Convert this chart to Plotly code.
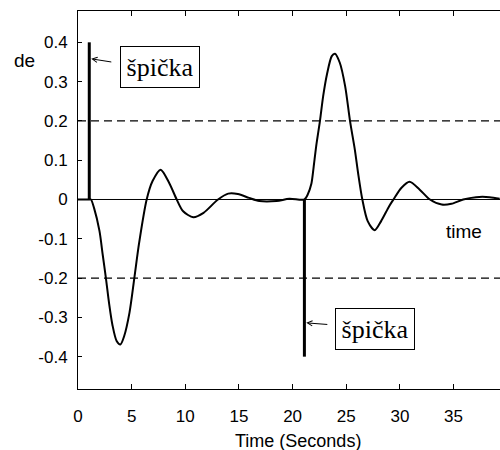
import plotly.graph_objects as go

# signal de(t)
t = [0, 1.0, 1.2, 1.5, 2.0, 2.3, 2.6, 2.9, 3.2, 3.6, 3.95, 4.3, 4.8, 5.25, 5.7, 6.4,
     6.95, 7.7, 8.5, 9.2, 9.8, 10.75, 11.7, 13.05, 14.0, 14.9, 15.95, 16.9, 18.5,
     19.7, 21.1, 21.4, 21.75, 21.95, 22.2, 22.55, 22.85, 23.2, 23.65, 23.95, 24.4,
     24.9, 25.35, 25.8, 26.1, 26.5, 27.0, 27.65, 28.25, 29.0, 29.4, 30.15, 30.9,
     31.85, 32.8, 33.9, 34.8, 35.9, 37.1, 38.35, 39.3]
de = [0, 0, 0, -0.022, -0.08, -0.14, -0.2, -0.265, -0.318, -0.36, -0.369, -0.348,
      -0.288, -0.2, -0.11, 0, 0.047, 0.076, 0.042, 0, -0.03, -0.045, -0.034, 0,
      0.015, 0.014, 0.004, -0.004, -0.004, 0.002, 0, 0.012, 0.04, 0.08, 0.136,
      0.2, 0.263, 0.318, 0.365, 0.371, 0.348, 0.288, 0.2, 0.127, 0.068, 0, -0.055,
      -0.078, -0.055, -0.017, 0, 0.03, 0.045, 0.025, 0, -0.013, -0.011, 0, 0.006,
      0.006, 0.002]

# spikes (špička)
spike_t = [1.05, 21.1]
spike_y = [0.4, -0.4]

# reference levels
zero_level = 0
limit_levels = [0.2, -0.2]

# ticks
x_ticks = [0, 5, 10, 15, 20, 25, 30, 35]
x_ticktext = ["0", "5", "10", "15", "20", "25", "30", "35"]
y_ticks = [-0.4, -0.3, -0.2, -0.1, 0, 0.1, 0.2, 0.3, 0.4]
y_ticktext = ["-0.4", "-0.3", "-0.2", "-0.1", "0", "0.1", "0.2", "0.3", "0.4"]

# annotation anchors
label_text = "špička"
label_pos = [(7.6, 0.336), (27.7, -0.329)]
arrow_head = [(1.23, 0.358), (21.27, -0.314)]
arrow_tail_px = [(21.6, 3.4), (22.6, 1.7)]

sans = "Liberation Sans, Arial, sans-serif"
serif = "Liberation Serif, Times New Roman, serif"

fig = go.Figure()

fig.add_hline(y=zero_level, line=dict(color="black", width=1))
for lv in limit_levels:
    fig.add_hline(y=lv, line=dict(color="black", width=1.3, dash="8px,5px"))

fig.add_trace(go.Scatter(x=t, y=de, mode="lines",
                         line=dict(color="black", width=2, shape="spline", smoothing=0.8),
                         showlegend=False, hoverinfo="skip"))

sx, sy = [], []
for st, syv in zip(spike_t, spike_y):
    sx += [st, st, None]
    sy += [0, syv, None]
fig.add_trace(go.Scatter(x=sx, y=sy, mode="lines", line=dict(color="black", width=3),
                         showlegend=False, hoverinfo="skip"))

for (lx, ly) in label_pos:
    fig.add_annotation(x=lx, y=ly, text=label_text, showarrow=False,
                       xanchor="center", yanchor="middle",
                       width=70, height=32, align="center", valign="middle",
                       font=dict(family=serif, size=26, color="black"),
                       bordercolor="black", borderwidth=1, borderpad=4, bgcolor="white")
for (hx, hy), (ax, ay) in zip(arrow_head, arrow_tail_px):
    fig.add_annotation(x=hx, y=hy, ax=ax, ay=ay, text="", showarrow=True,
                       arrowhead=5, arrowsize=1.0, arrowwidth=1, arrowcolor="black")

fig.add_annotation(xref="paper", yref="paper", x=(24 - 78) / 422, y=(389 - 60) / 378,
                   xanchor="center", yanchor="middle",
                   text="de", showarrow=False, font=dict(family=sans, size=19, color="black"))
fig.add_annotation(xref="paper", yref="paper", x=(464 - 78) / 422, y=(389 - 231) / 378,
                   xanchor="center", yanchor="middle",
                   text="time", showarrow=False, font=dict(family=sans, size=19, color="black"))
fig.add_annotation(xref="paper", yref="paper", x=(298 - 78) / 422, y=(389 - 441) / 378,
                   xanchor="center", yanchor="middle",
                   text="Time (Seconds)", showarrow=False, font=dict(family=sans, size=18, color="black"))

fig.update_layout(
    width=500, height=450,
    margin=dict(l=78, r=0, t=11, b=61),
    paper_bgcolor="white", plot_bgcolor="white",
    font=dict(family=sans, size=17, color="black"),
    xaxis=dict(range=[0, 39.33], tickvals=x_ticks, ticktext=x_ticktext,
               ticks="inside", ticklen=5, tickcolor="black", tickwidth=1,
               showline=True, linecolor="black", linewidth=1, mirror="ticks",
               showgrid=False, zeroline=False, ticklabelstandoff=12,
               tickfont=dict(family=sans, size=17, color="black")),
    yaxis=dict(range=[-0.4823, 0.4797], tickvals=y_ticks, ticktext=y_ticktext,
               ticks="inside", ticklen=4, tickcolor="black", tickwidth=1,
               showline=True, linecolor="black", linewidth=1, mirror=False,
               showgrid=False, zeroline=False, ticklabelstandoff=6,
               tickfont=dict(family=sans, size=17, color="black")),
)

fig.write_html("out.html")
